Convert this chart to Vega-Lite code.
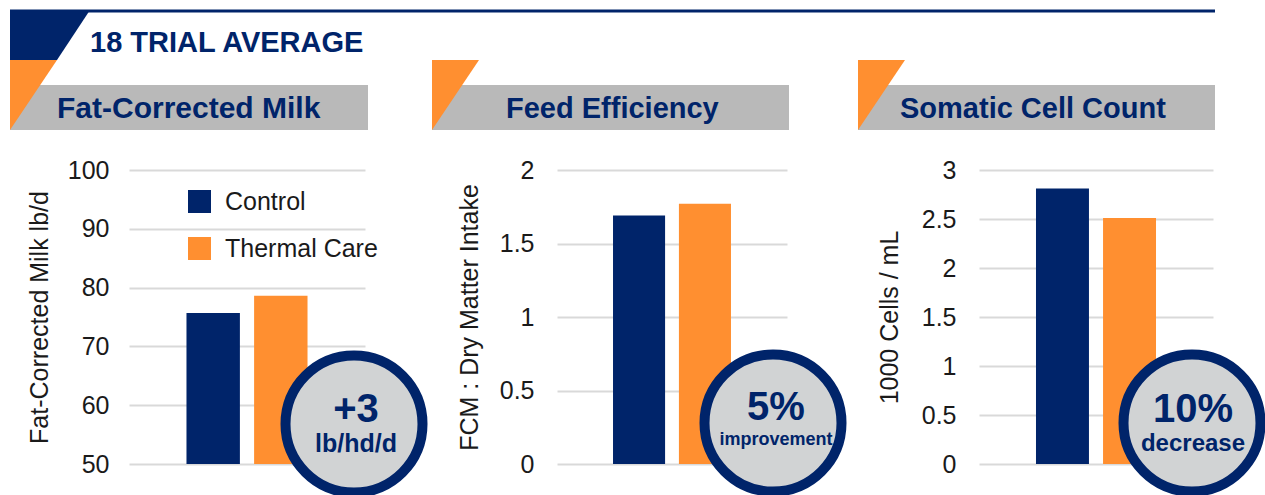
{
  "$schema": "https://vega.github.io/schema/vega-lite/v6.json",
  "background": "white",
  "padding": {"left": 8, "top": 9, "right": 0, "bottom": 0},
  "spacing": 192,
  "bounds": "flush",
  "config": {
    "view": {"stroke": null},
    "font": "Liberation Sans",
    "axis": {"domain": false, "ticks": false, "labelFont": "Liberation Sans", "labelFontSize": 25, "labelColor": "#1a1a1a", "titleFont": "Liberation Sans", "titleFontSize": 25, "titleFontWeight": "normal", "titleColor": "#1a1a1a", "titlePadding": 17, "gridColor": "#d9d9d9", "gridWidth": 2}
  },
  "resolve": {"scale": {"color": "independent"}, "legend": {"color": "independent"}},
  "hconcat": [
    {
      "width": 236, "height": 294,
      "resolve": {"scale": {"x": "independent", "y": "independent"}},
      "layer": [
        {
          "data": {"values": [{"group": "Control", "value": 75.7}, {"group": "Thermal Care", "value": 78.6}]},
          "mark": {"type": "bar", "clip": true},
          "encoding": {
            "x": {"field": "group", "type": "nominal", "scale": {"domain": ["Control", "Thermal Care"], "paddingInner": 0.21, "paddingOuter": 0.85}, "axis": null},
            "y": {"field": "value", "type": "quantitative", "scale": {"domain": [50, 100], "nice": false, "zero": false}, "axis": {"values": [50, 60, 70, 80, 90, 100], "format": "d", "title": "Fat-Corrected Milk  lb/d", "labelPadding": 20, "titlePadding": 15}},
            "color": {"field": "group", "type": "nominal", "scale": {"domain": ["Control", "Thermal Care"], "range": ["#00246a", "#ff8f30"]},
              "legend": {"orient": "none", "legendX": 58, "legendY": 19, "title": null, "symbolType": "square", "symbolSize": 529, "symbolStrokeWidth": 0, "symbolOpacity": 1, "labelFont": "Liberation Sans", "labelFontSize": 25, "labelColor": "#1a1a1a", "labelOffset": 13, "rowPadding": 21, "padding": 0}}
          }
        },
        {
          "data": {"values": [{"banner": "18 TRIAL AVERAGE", "metric": "Fat-Corrected Milk", "headline": "+3", "note": "lb/hd/d"}]},
          "layer": [
            {"mark": {"type": "rect", "color": "#b9b9b9"}, "encoding": {"x": {"datum": -119, "type": "quantitative", "scale": {"domain": [0, 236], "nice": false, "zero": false}, "axis": null}, "x2": {"datum": 239}, "y": {"datum": -85, "type": "quantitative", "scale": {"domain": [0, 294], "nice": false, "zero": false, "reverse": true}, "axis": null}, "y2": {"datum": -40}}},
            {"mark": {"type": "point", "shape": "M0,0L47,0L0,70Z", "size": 4, "filled": true, "color": "#ff8f30", "opacity": 1, "strokeWidth": 0}, "encoding": {"x": {"datum": -119, "type": "quantitative", "scale": {"domain": [0, 236], "nice": false, "zero": false}, "axis": null}, "y": {"datum": -110, "type": "quantitative", "scale": {"domain": [0, 294], "nice": false, "zero": false, "reverse": true}, "axis": null}}},
            {"mark": {"type": "point", "shape": "M0,0L80,0L47,50L0,50Z", "size": 4, "filled": true, "color": "#00246a", "opacity": 1, "strokeWidth": 0}, "encoding": {"x": {"datum": -119, "type": "quantitative", "scale": {"domain": [0, 236], "nice": false, "zero": false}, "axis": null}, "y": {"datum": -160, "type": "quantitative", "scale": {"domain": [0, 294], "nice": false, "zero": false, "reverse": true}, "axis": null}}},
            {"mark": {"type": "rule", "color": "#00246a", "strokeWidth": 3}, "encoding": {"x": {"datum": -119, "type": "quantitative", "scale": {"domain": [0, 236], "nice": false, "zero": false}, "axis": null}, "x2": {"datum": 1086}, "y": {"datum": -159, "type": "quantitative", "scale": {"domain": [0, 294], "nice": false, "zero": false, "reverse": true}, "axis": null}}},
            {"mark": {"type": "text", "align": "left", "baseline": "alphabetic", "fontSize": 29, "fontWeight": "bold", "color": "#00246a"}, "encoding": {"x": {"datum": -39, "type": "quantitative", "scale": {"domain": [0, 236], "nice": false, "zero": false}, "axis": null}, "y": {"datum": -118, "type": "quantitative", "scale": {"domain": [0, 294], "nice": false, "zero": false, "reverse": true}, "axis": null}, "text": {"field": "banner"}}},
            {"mark": {"type": "text", "align": "left", "baseline": "alphabetic", "fontSize": 30, "fontWeight": "bold", "color": "#00246a"}, "encoding": {"x": {"datum": -72, "type": "quantitative", "scale": {"domain": [0, 236], "nice": false, "zero": false}, "axis": null}, "y": {"datum": -52, "type": "quantitative", "scale": {"domain": [0, 294], "nice": false, "zero": false, "reverse": true}, "axis": null}, "text": {"field": "metric"}}},
            {"mark": {"type": "point", "shape": "circle", "size": 18769, "fill": "#d1d3d4", "stroke": "#00246a", "strokeWidth": 10, "opacity": 1}, "encoding": {"x": {"datum": 225, "type": "quantitative", "scale": {"domain": [0, 236], "nice": false, "zero": false}, "axis": null}, "y": {"datum": 254, "type": "quantitative", "scale": {"domain": [0, 294], "nice": false, "zero": false, "reverse": true}, "axis": null}}},
            {"mark": {"type": "text", "align": "center", "baseline": "alphabetic", "fontSize": 40, "fontWeight": "bold", "color": "#00246a"}, "encoding": {"x": {"datum": 227, "type": "quantitative", "scale": {"domain": [0, 236], "nice": false, "zero": false}, "axis": null}, "y": {"datum": 252, "type": "quantitative", "scale": {"domain": [0, 294], "nice": false, "zero": false, "reverse": true}, "axis": null}, "text": {"field": "headline"}}},
            {"mark": {"type": "text", "align": "center", "baseline": "alphabetic", "fontSize": 25, "fontWeight": "bold", "color": "#00246a"}, "encoding": {"x": {"datum": 227, "type": "quantitative", "scale": {"domain": [0, 236], "nice": false, "zero": false}, "axis": null}, "y": {"datum": 282, "type": "quantitative", "scale": {"domain": [0, 294], "nice": false, "zero": false, "reverse": true}, "axis": null}, "text": {"field": "note"}}}
          ]
        }
      ]
    },
    {
      "width": 230, "height": 294,
      "resolve": {"scale": {"x": "independent", "y": "independent"}},
      "layer": [
        {
          "data": {"values": [{"group": "Control", "value": 1.69}, {"group": "Thermal Care", "value": 1.77}]},
          "mark": {"type": "bar", "clip": true},
          "encoding": {
            "x": {"field": "group", "type": "nominal", "scale": {"domain": ["Control", "Thermal Care"], "paddingInner": 0.21, "paddingOuter": 0.85}, "axis": null},
            "y": {"field": "value", "type": "quantitative", "scale": {"domain": [0, 2], "nice": false, "zero": false}, "axis": {"values": [0, 0.5, 1, 1.5, 2], "format": "~r", "title": "FCM : Dry Matter Intake", "labelPadding": 23}},
            "color": {"field": "group", "type": "nominal", "scale": {"domain": ["Control", "Thermal Care"], "range": ["#00246a", "#ff8f30"]}, "legend": null}
          }
        },
        {
          "data": {"values": [{"metric": "Feed Efficiency", "headline": "5%", "note": "improvement"}]},
          "layer": [
            {"mark": {"type": "rect", "color": "#b9b9b9"}, "encoding": {"x": {"datum": -125, "type": "quantitative", "scale": {"domain": [0, 230], "nice": false, "zero": false}, "axis": null}, "x2": {"datum": 232}, "y": {"datum": -85, "type": "quantitative", "scale": {"domain": [0, 294], "nice": false, "zero": false, "reverse": true}, "axis": null}, "y2": {"datum": -40}}},
            {"mark": {"type": "point", "shape": "M0,0L47,0L0,70Z", "size": 4, "filled": true, "color": "#ff8f30", "opacity": 1, "strokeWidth": 0}, "encoding": {"x": {"datum": -125, "type": "quantitative", "scale": {"domain": [0, 230], "nice": false, "zero": false}, "axis": null}, "y": {"datum": -110, "type": "quantitative", "scale": {"domain": [0, 294], "nice": false, "zero": false, "reverse": true}, "axis": null}}},
            {"mark": {"type": "text", "align": "left", "baseline": "alphabetic", "fontSize": 29, "fontWeight": "bold", "color": "#00246a"}, "encoding": {"x": {"datum": -51, "type": "quantitative", "scale": {"domain": [0, 230], "nice": false, "zero": false}, "axis": null}, "y": {"datum": -52, "type": "quantitative", "scale": {"domain": [0, 294], "nice": false, "zero": false, "reverse": true}, "axis": null}, "text": {"field": "metric"}}},
            {"mark": {"type": "point", "shape": "circle", "size": 18769, "fill": "#d1d3d4", "stroke": "#00246a", "strokeWidth": 10, "opacity": 1}, "encoding": {"x": {"datum": 216, "type": "quantitative", "scale": {"domain": [0, 230], "nice": false, "zero": false}, "axis": null}, "y": {"datum": 253, "type": "quantitative", "scale": {"domain": [0, 294], "nice": false, "zero": false, "reverse": true}, "axis": null}}},
            {"mark": {"type": "text", "align": "center", "baseline": "alphabetic", "fontSize": 40, "fontWeight": "bold", "color": "#00246a"}, "encoding": {"x": {"datum": 219, "type": "quantitative", "scale": {"domain": [0, 230], "nice": false, "zero": false}, "axis": null}, "y": {"datum": 250, "type": "quantitative", "scale": {"domain": [0, 294], "nice": false, "zero": false, "reverse": true}, "axis": null}, "text": {"field": "headline"}}},
            {"mark": {"type": "text", "align": "center", "baseline": "alphabetic", "fontSize": 18, "fontWeight": "bold", "color": "#00246a"}, "encoding": {"x": {"datum": 219, "type": "quantitative", "scale": {"domain": [0, 230], "nice": false, "zero": false}, "axis": null}, "y": {"datum": 275, "type": "quantitative", "scale": {"domain": [0, 294], "nice": false, "zero": false, "reverse": true}, "axis": null}, "text": {"field": "note"}}}
          ]
        }
      ]
    },
    {
      "width": 234, "height": 294,
      "resolve": {"scale": {"x": "independent", "y": "independent"}},
      "layer": [
        {
          "data": {"values": [{"group": "Control", "value": 2.81}, {"group": "Thermal Care", "value": 2.51}]},
          "mark": {"type": "bar", "clip": true},
          "encoding": {
            "x": {"field": "group", "type": "nominal", "scale": {"domain": ["Control", "Thermal Care"], "paddingInner": 0.21, "paddingOuter": 0.85}, "axis": null},
            "y": {"field": "value", "type": "quantitative", "scale": {"domain": [0, 3], "nice": false, "zero": false}, "axis": {"values": [0, 0.5, 1, 1.5, 2, 2.5, 3], "format": "~r", "title": "1000 Cells / mL", "labelPadding": 23, "titlePadding": 19}},
            "color": {"field": "group", "type": "nominal", "scale": {"domain": ["Control", "Thermal Care"], "range": ["#00246a", "#ff8f30"]}, "legend": null}
          }
        },
        {
          "data": {"values": [{"metric": "Somatic Cell Count", "headline": "10%", "note": "decrease"}]},
          "layer": [
            {"mark": {"type": "rect", "color": "#b9b9b9"}, "encoding": {"x": {"datum": -121, "type": "quantitative", "scale": {"domain": [0, 234], "nice": false, "zero": false}, "axis": null}, "x2": {"datum": 236}, "y": {"datum": -85, "type": "quantitative", "scale": {"domain": [0, 294], "nice": false, "zero": false, "reverse": true}, "axis": null}, "y2": {"datum": -40}}},
            {"mark": {"type": "point", "shape": "M0,0L47,0L0,70Z", "size": 4, "filled": true, "color": "#ff8f30", "opacity": 1, "strokeWidth": 0}, "encoding": {"x": {"datum": -121, "type": "quantitative", "scale": {"domain": [0, 234], "nice": false, "zero": false}, "axis": null}, "y": {"datum": -110, "type": "quantitative", "scale": {"domain": [0, 294], "nice": false, "zero": false, "reverse": true}, "axis": null}}},
            {"mark": {"type": "text", "align": "left", "baseline": "alphabetic", "fontSize": 29, "fontWeight": "bold", "color": "#00246a"}, "encoding": {"x": {"datum": -79, "type": "quantitative", "scale": {"domain": [0, 234], "nice": false, "zero": false}, "axis": null}, "y": {"datum": -52, "type": "quantitative", "scale": {"domain": [0, 294], "nice": false, "zero": false, "reverse": true}, "axis": null}, "text": {"field": "metric"}}},
            {"mark": {"type": "point", "shape": "circle", "size": 18769, "fill": "#d1d3d4", "stroke": "#00246a", "strokeWidth": 10, "opacity": 1}, "encoding": {"x": {"datum": 213, "type": "quantitative", "scale": {"domain": [0, 234], "nice": false, "zero": false}, "axis": null}, "y": {"datum": 253, "type": "quantitative", "scale": {"domain": [0, 294], "nice": false, "zero": false, "reverse": true}, "axis": null}}},
            {"mark": {"type": "text", "align": "center", "baseline": "alphabetic", "fontSize": 40, "fontWeight": "bold", "color": "#00246a"}, "encoding": {"x": {"datum": 214, "type": "quantitative", "scale": {"domain": [0, 234], "nice": false, "zero": false}, "axis": null}, "y": {"datum": 252, "type": "quantitative", "scale": {"domain": [0, 294], "nice": false, "zero": false, "reverse": true}, "axis": null}, "text": {"field": "headline"}}},
            {"mark": {"type": "text", "align": "center", "baseline": "alphabetic", "fontSize": 24, "fontWeight": "bold", "color": "#00246a"}, "encoding": {"x": {"datum": 214, "type": "quantitative", "scale": {"domain": [0, 234], "nice": false, "zero": false}, "axis": null}, "y": {"datum": 281, "type": "quantitative", "scale": {"domain": [0, 294], "nice": false, "zero": false, "reverse": true}, "axis": null}, "text": {"field": "note"}}}
          ]
        }
      ]
    }
  ]
}
